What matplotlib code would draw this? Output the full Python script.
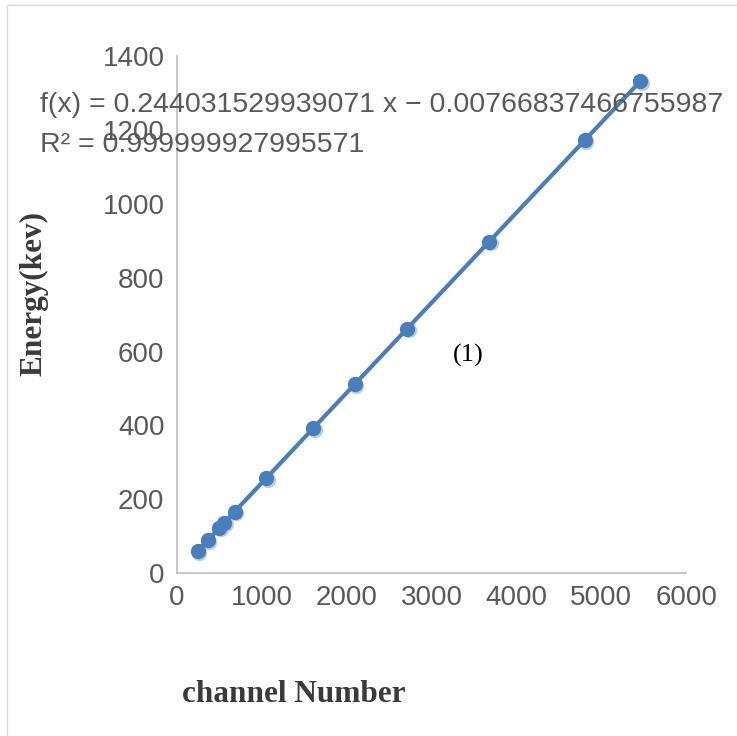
import matplotlib
matplotlib.use("Agg")
import matplotlib.pyplot as plt
import matplotlib.transforms as mtransforms
from matplotlib.patches import Rectangle
import numpy as np

channels = [244, 361, 500, 557, 680, 1050, 1606, 2094, 2713, 3680, 4807, 5458]
energies = [59.5, 88, 122, 136, 166, 256, 392, 511, 662, 898, 1173, 1332]
x_ticks = [0, 1000, 2000, 3000, 4000, 5000, 6000]
y_ticks = [0, 200, 400, 600, 800, 1000, 1200, 1400]
eq_line1 = "f(x) = 0.244031529939071 x \u2212 0.00766837466755987"
eq_line2 = "R\u00b2 = 0.999999927995571"

blue = "#4a7ebb"
grey_txt = "#595959"
tick_font = ["Liberation Sans", "DejaVu Sans"]

fig = plt.figure(figsize=(7.37, 7.36), dpi=100)
fig.patches.append(Rectangle((7/737, -0.1), 1.1, 1 - 5/736 + 0.1, transform=fig.transFigure,
                             fill=False, edgecolor="#d9d9d9", linewidth=1))
ax = fig.add_axes([0.240, 0.2215, 0.691, 0.702])

shadow = mtransforms.offset_copy(ax.transData, fig=fig, x=1.5, y=-1.5, units="dots")
ax.plot(channels, energies, linestyle="none", marker="o", ms=10, mfc="#b8cde8",
        mec="#b8cde8", transform=shadow, zorder=2)
ax.plot(channels, energies, color=blue, lw=3, marker="o", ms=10, mfc=blue, mec=blue, zorder=3)

ax.set_xlim(0, 6000)
ax.set_ylim(0, 1400)
ax.set_xticks(x_ticks)
ax.set_yticks(y_ticks)
for s in ["top", "right"]:
    ax.spines[s].set_visible(False)
for s in ["left", "bottom"]:
    ax.spines[s].set_color("#bfbfbf")
    ax.spines[s].set_linewidth(1.2)
ax.tick_params(length=0, labelcolor=grey_txt, labelsize=20)
ax.tick_params(axis="x", pad=9)
ax.tick_params(axis="y", pad=9)
for lab in ax.get_xticklabels() + ax.get_yticklabels():
    lab.set_family(tick_font)

fig.text(40/737, 1 - 112/736, eq_line1, fontsize=20.5, color=grey_txt, family=tick_font,
         ha="left", va="baseline")
fig.text(40/737, 1 - 152/736, eq_line2, fontsize=20.5, color=grey_txt, family=tick_font,
         ha="left", va="baseline")
fig.text(468/737, 1 - 355/736, "(1)", fontsize=19, color="black", family="Liberation Serif",
         ha="center", va="center")
fig.text(34/737, 1 - 293/736, "Energy(kev)", fontsize=22.5, fontweight="bold", color="#3a3a3a",
         family="Liberation Serif", rotation=90, ha="center", va="center")
fig.text(294/737, 1 - 695/736, "channel Number", fontsize=22.5, fontweight="bold", color="#3a3a3a",
         family="Liberation Serif", ha="center", va="center")

fig.savefig("out.png", dpi=100)
